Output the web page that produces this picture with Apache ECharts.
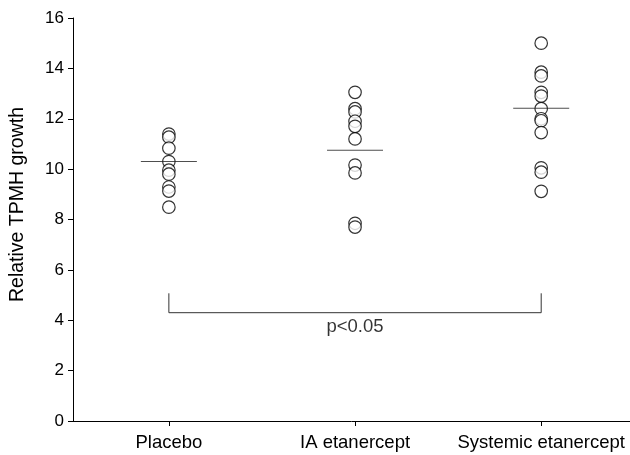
<!DOCTYPE html>
<html>
<head>
<meta charset="utf-8">
<script src="https://cdn.jsdelivr.net/npm/echarts@6/dist/echarts.min.js"></script>
<style>html,body{margin:0;padding:0;background:#fff}#c{width:630px;height:455px}</style>
</head>
<body>
<div id="c"></div>
<script>
var categories = ['Placebo', 'IA etanercept', 'Systemic etanercept'];
var placebo = [11.39, 11.27, 10.83, 10.3, 9.96, 9.8, 9.29, 9.13, 8.49];
var iaEtanercept = [13.05, 12.4, 12.27, 11.9, 11.7, 11.2, 10.16, 9.85, 7.85, 7.7];
var systemicEtanercept = [15.0, 13.85, 13.7, 13.05, 12.9, 12.4, 12.0, 11.92, 11.45, 10.05, 9.88, 9.12];
var centerLines = [10.3, 10.75, 12.42];
var yTicks = [0, 2, 4, 6, 8, 10, 12, 14, 16];
var bracketLow = 4.3;
var bracketHigh = 5.07;
var pLabel = 'p<0.05';
var pLabelY = 3.73;

var groups = [placebo, iaEtanercept, systemicEtanercept];
var pts = [];
groups.forEach(function (g, i) {
  g.forEach(function (v) { pts.push([i + 1, v]); });
});
var lines = centerLines.map(function (v, i) { return [i + 1, v]; });

var chart = echarts.init(document.getElementById('c'));
chart.setOption({
  animation: false,
  textStyle: { fontFamily: 'Liberation Sans, Arial, sans-serif' },
  grid: { left: 72, right: 0, top: 18, bottom: 34 },
  xAxis: {
    type: 'value',
    min: 0.485,
    max: 3.477,
    splitLine: { show: false },
    axisLine: { show: true, onZero: false, lineStyle: { color: '#000', width: 1 } },
    axisTick: { show: true, inside: false, length: 5, customValues: [1, 2, 3], lineStyle: { color: '#000' } },
    axisLabel: {
      customValues: [1, 2, 3],
      margin: 12,
      color: '#000',
      fontSize: 18.5,
      formatter: function (v) { return categories[Math.round(v) - 1] || ''; }
    }
  },
  yAxis: {
    type: 'value',
    min: yTicks[0],
    max: yTicks[yTicks.length - 1],
    interval: 2,
    name: 'Relative TPMH growth',
    nameLocation: 'middle',
    nameGap: 45,
    nameTextStyle: { color: '#000', fontSize: 19.5, padding: [0, 0, 0, 30] },
    splitLine: { show: false },
    axisLine: { show: true, lineStyle: { color: '#000', width: 1 } },
    axisTick: { show: true, inside: false, length: 5, lineStyle: { color: '#000' } },
    axisLabel: { color: '#000', fontSize: 17, margin: 9 }
  },
  series: [
    {
      type: 'scatter',
      data: pts,
      symbol: 'circle',
      symbolSize: 12.5,
      itemStyle: { color: '#fff', borderColor: '#000', borderWidth: 1.2 },
      z: 3
    },
    {
      type: 'scatter',
      data: lines,
      symbol: 'rect',
      symbolSize: [56, 1],
      itemStyle: { color: '#222' },
      z: 4
    },
    {
      type: 'line',
      data: [[1, bracketHigh], [1, bracketLow], [3, bracketLow], [3, bracketHigh]],
      symbol: 'none',
      lineStyle: { color: '#333', width: 1 },
      z: 2
    },
    {
      type: 'scatter',
      data: [[2, pLabelY]],
      symbolSize: 0,
      label: { show: true, position: 'inside', formatter: pLabel, color: '#000', fontSize: 18.5 },
      z: 5
    }
  ]
});
</script>
</body>
</html>
